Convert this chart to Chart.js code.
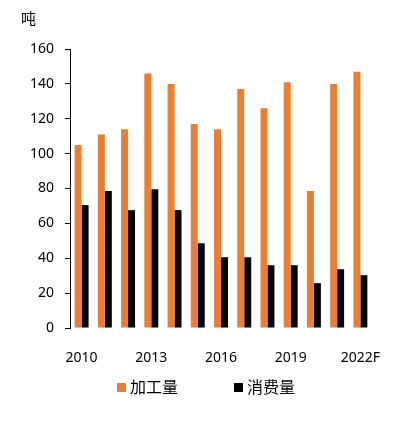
<!DOCTYPE html>
<html>
<head>
<meta charset="utf-8">
<script src="https://cdn.jsdelivr.net/npm/chart.js@4"></script>
<style>
body{margin:0;background:#fff;}
#wrap{position:relative;width:412px;height:448px;}
#leg{position:absolute;top:374px;left:0;width:412px;font-family:"Noto Sans CJK SC",sans-serif;font-size:16px;color:#000;}
#leg span.it{position:absolute;top:0;white-space:nowrap;}
#leg span.bx{display:inline-block;width:9px;height:9px;margin-right:4px;vertical-align:1px;}
</style>
</head>
<body>
<div id="wrap">
<canvas id="mychart" width="412" height="448"></canvas>
<div id="leg"></div>
</div>
<script>
var years = ["2010","2011","2012","2013","2014","2015","2016","2017","2018","2019","2020","2021","2022F"];
var jiagong = [105,111,114,146,140,117,114,137,126,141,78.5,140,147];
var xiaofei = [70.5,78.5,67.6,79.6,67.6,48.6,40.6,40.6,36,36,25.7,33.7,30.3];
var yTicks = [0,20,40,60,80,100,120,140,160];
var names = ["加工量","消费量"];
var colors = ["#ED7D31","#000000"];

var unitLabel = {
	id:'unitLabel',
	afterDraw:function(c){
		var ctx = c.ctx;
		ctx.save();
		ctx.font = '15px "Noto Sans CJK SC"';
		ctx.fillStyle = '#000';
		ctx.textBaseline = 'middle';
		ctx.fillText('吨', 21, 18);
		ctx.restore();
	}
};

var ctx = document.getElementById('mychart').getContext('2d');
var chart = new Chart(ctx, {
	type: 'bar',
	data: {
		labels: years,
		datasets: [{
			label: names[0],
			backgroundColor: colors[0],
			data: jiagong,
			barPercentage: 1,
			categoryPercentage: 0.6
		},
		{
			label: names[1],
			backgroundColor: colors[1],
			data: xiaofei,
			barPercentage: 1,
			categoryPercentage: 0.6
		}]
	},
	plugins: [unitLabel],
	options: {
		responsive: false,
		animation: false,
		layout: {padding: {top: 49, right: 40, left: 0, bottom: 80}},
		plugins: {legend: {display: false}, tooltip: {enabled: false}},
		scales: {
			x: {
				grid: {display: false},
				border: {display: false},
				ticks: {
					autoSkip: false, maxRotation: 0, padding: 14, color: '#000',
					font: {family: '"Noto Sans", sans-serif', size: 14},
					callback: function(v, i){ return i % 3 == 0 ? years[i] : ''; }
				},
				afterFit: function(s){ s.height = 40; }
			},
			y: {
				min: 0, max: 160,
				afterBuildTicks: function(s){ s.ticks = yTicks.map(function(v){ return {value: v}; }); },
				grid: {drawOnChartArea: false, drawTicks: true, tickLength: 5, color: '#000'},
				border: {display: true, color: '#000'},
				ticks: {padding: 11, color: '#000', font: {family: '"Noto Sans", sans-serif', size: 14}},
				afterFit: function(s){ s.width = 70; }
			}
		}
	}
});

var leg = document.getElementById('leg');
var pos = [117, 234];
for (var i = 0; i < names.length; i++) {
	var it = document.createElement('span');
	it.className = 'it';
	it.style.left = pos[i] + 'px';
	it.innerHTML = '<span class="bx" style="background:' + colors[i] + '"></span>' + names[i];
	leg.appendChild(it);
}
</script>
</body>
</html>
